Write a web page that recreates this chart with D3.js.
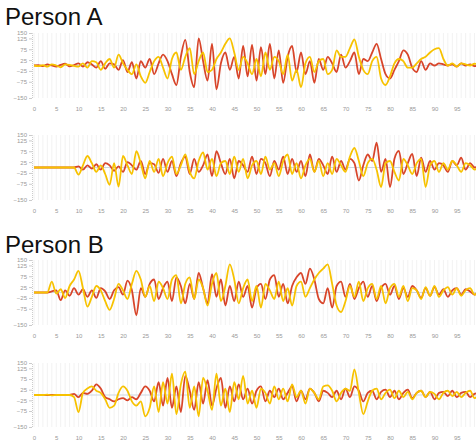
<!DOCTYPE html>
<html>
<head>
<meta charset="utf-8">
<script src="https://cdn.jsdelivr.net/npm/d3@7"></script>
<style>
  body { margin: 0; background: #fff; }
  svg { display: block; font-family: "Liberation Sans", Arial, sans-serif; }
</style>
</head>
<body>
<svg id="chart" width="476" height="448"></svg>
<script>
// tick labels
const xTicks = d3.range(0, 96, 5);
const yTicks = [150, 125, 75, 25, -25, -75, -150];

// Person A, upper chart
const aUpperRed = [
  0, 2, -3, 5, 0, -5, 3, 8, -4, 2,
  10, -5, 15, 5, -10, 20, -15, 10, 5, -20,
  25, -30, 15, -60, 20, -10, 30, -40, 10, 50,
  20, -40, -90, 40, 118, -30, -100, 125, 20, -70,
  100, -110, 10, 60, -20, 40, -60, 90, -50, 95,
  -70, 85, -40, 100, -60, 70, -80, 40, 90, -30,
  60, -40, 20, -80, 30, -20, 40, 10, -30, 50,
  -10, 20, 60, -40, 30, 20, 60, 100, 30, -40,
  -60, -20, 20, 70, 50, -10, -30, 20, -20, 10,
  0, 10, 5, 0, 5, -5, 10, 0, 5, -3, 2
];
const aUpperYellow = [
  0, -3, 2, -5, 5, 0, -8, 5, 3, -2,
  -5, 10, -10, 20, 15, -20, 10, 30, -10, 50,
  10, -20, -40, 5, -50, -80, -30, 20, 40, -10,
  -60, 30, 60, -20, 40, 80, -40, 20, 60, -30,
  -20, 30, 60, 100, 125, 60, -20, 40, 10, -40,
  30, -50, 60, -20, 40, 20, -40, 50, -70, -20,
  -100, 10, 40, -30, 20, 30, -40, -20, 70, 40,
  40, 80, 120, 40, -20, -40, 20, 40, -60, -90,
  -50, 10, 30, 20, -10, -10, 10, 30, 40, 60,
  75, 80, 30, 0, 10, -5, 10, 5, 0, 8, 3
];

// Person A, lower chart
const aLowerRed = [
  0, 0, 0, 0, 0, 0, 0, 0, 0, 0,
  5, -10, 10, -5, 15, -10, 20, 10, -15, 5,
  -20, 25, 10, -10, 30, -30, 20, 15, -25, 40,
  -20, 30, -40, 20, 50, -30, 40, -20, 10, 60,
  -40, 75, 20, -30, 40, -50, 30, 10, -20, 50,
  -30, 40, 20, -40, 30, -10, 50, -30, 40, -20,
  30, -40, 60, -20, 40, 10, -30, 50, -20, 30,
  -10, 40, 20, -60, 10, 60, 30, 115, -20, 40,
  -90, 40, 77, -30, 20, 63, -40, 45, -20, 30,
  -10, 20, 10, -20, 30, 10, 45, -10, 20, 0, 10
];
const aLowerYellow = [
  0, 0, 0, 0, 0, 0, 0, 0, 0, 0,
  -33, 10, 53, 20, -20, 10, -30, -80, 20, -88,
  53, 10, -30, 75, 20, -50, 30, -20, 40, -40,
  20, 50, -30, 10, 60, -20, -50, 30, 70, -10,
  40, -40, 20, 30, -30, 50, -20, 40, -50, 10,
  30, -30, 50, -10, 20, -40, 30, 60, -30, 20,
  -50, 10, 40, -20, 30, -40, 20, -30, 40, 10,
  -20, 50, 90, 30, -40, 20, 40, -10, -90, 20,
  30, -20, -60, 40, 10, -30, 20, 40, -90, 10,
  30, -20, 20, -10, 30, 10, -20, 20, 10, -10, 15
];

// Person B, upper chart
const bUpperRed = [
  0, 0, 0, 0, 5, 10, -35, 10, -15, 20,
  -10, 15, -20, 10, -25, 20, 5, -30, 10, 25,
  -10, 55, 10, -105, 20, -20, 40, 60, -30, 20,
  50, -40, 70, 30, -50, 40, -30, 90, 20, -50,
  85, -20, 60, -60, 30, -40, 50, -20, 30, -70,
  20, 40, -30, 60, 80, -20, 40, -50, 30, 70,
  90, 40, 110, 60, -30, -50, 20, -70, 30, 50,
  -20, 40, -30, 20, 50, -20, 30, -40, 20, 40,
  -10, 30, -30, 20, -20, 30, 10, -25, 20, -15,
  25, -10, 15, -20, 10, 20, -10, 15, 5, -10, 10
];
const bUpperYellow = [
  0, 0, 0, 0, 50, -5, 15, -25, 30, 60,
  100, 20, -65, -20, 30, 10, -40, -80, -30, 40,
  10, -30, 40, 100, 60, -20, 30, -40, 50, 20,
  -30, 60, 80, -50, 40, 70, -30, 60, 20, -60,
  40, 90, -40, 30, 130, 60, -50, 20, 60, -40,
  30, -70, 40, 10, -30, 50, -40, 20, -60, 30,
  50, -20, 20, 60, 90, 110, 130, 40, -60, -90,
  -40, 30, -20, 50, -40, 20, 40, -30, 30, -50,
  20, 40, -20, 30, -40, 20, 10, -30, 25, -15,
  30, -20, 10, 25, -10, 20, -15, 10, 20, -10, 15
];

// Person B, lower chart
const bLowerRed = [
  0, 0, 0, 0, 0, 0, 0, 0, 0, 5,
  -10, 10, 5, 20, 50, 30, -10, -20, -30, -20,
  -15, -25, -10, -20, 10, 40, 20, -30, 60, -50,
  80, -60, 40, -80, 90, 20, -70, 60, -40, 70,
  -50, 30, 80, -60, 40, -30, 50, -20, 30, -40,
  20, 40, -30, 20, -10, 30, -20, 10, 40, -30,
  20, -20, 30, 10, -30, 20, 10, -10, 20, -20,
  30, -10, 40, 20, -30, 10, 20, -20, 15, 25,
  -10, 20, -20, 10, 25, -15, 10, 20, -10, 15,
  -20, 10, 15, -5, 20, -10, 10, 15, -10, 5, 10
];
const bLowerYellow = [
  0, 0, 0, 2, -2, 0, 0, 0, 0, -10,
  -80, 10, 30, 40, 20, 10, -20, -60, -50, 10,
  40, 20, -30, -50, -30, -100, -60, 40, -80, 60,
  -40, 100, -90, 50, 110, -60, 40, -100, 80, 20,
  -70, 100, -50, 30, -80, 60, -20, 90, -40, 20,
  -60, 30, 10, -40, 40, -20, 30, -30, 50, -10,
  20, -40, 30, 10, -20, 40, 45, 20, -30, 10,
  30, 20, 120, 10, -90, -30, 20, 30, -20, 10,
  25, -15, 20, -10, 15, -20, 10, 20, -10, 15,
  5, -20, 10, 20, -5, 15, -10, 10, 20, -15, 5
];

const svg = d3.select("#chart");

const x = d3.scaleLinear()
  .domain([0, 100])
  .range([34, 479]);

const panels = [
  { red: aUpperRed, yellow: aUpperYellow, top: 33, bottom: 98 },
  { red: aLowerRed, yellow: aLowerYellow, top: 135, bottom: 200 },
  { red: bUpperRed, yellow: bUpperYellow, top: 260, bottom: 325 },
  { red: bLowerRed, yellow: bLowerYellow, top: 363, bottom: 427 }
];

// titles
svg.append("text")
  .attr("x", 5)
  .attr("y", 25)
  .style("font-size", "24px")
  .style("fill", "#111")
  .text("Person A");

svg.append("text")
  .attr("x", 5)
  .attr("y", 253)
  .style("font-size", "24px")
  .style("fill", "#111")
  .text("Person B");

panels.forEach(p => {
  const y = d3.scaleLinear()
    .domain([-150, 150])
    .range([p.bottom, p.top]);

  const g = svg.append("g");

  // vertical grid, one line per sample
  g.selectAll("line.grid")
    .data(d3.range(0, 101))
    .join("line")
    .attr("class", "grid")
    .attr("x1", d => x(d))
    .attr("x2", d => x(d))
    .attr("y1", y(150))
    .attr("y2", y(-150))
    .style("stroke", "#f2f2f2")
    .style("stroke-width", 1);

  // zero line
  g.append("line")
    .attr("x1", x(0))
    .attr("x2", 476)
    .attr("y1", y(0))
    .attr("y2", y(0))
    .style("stroke", "#cdd6e0")
    .style("stroke-width", 1);

  // y axis
  const yAxis = g.append("g")
    .attr("transform", `translate(${x(0) - 2},0)`)
    .call(d3.axisLeft(y).tickValues(yTicks).tickSize(3).tickPadding(2));
  yAxis.select(".domain").style("stroke", "#ccc").style("stroke-dasharray", "1,1");
  yAxis.selectAll(".tick line").style("stroke", "#ccc");
  yAxis.selectAll("text").style("font-size", "6px").style("fill", "#999");

  // x axis labels
  const xAxis = g.append("g")
    .attr("transform", `translate(0,${p.bottom + 7})`)
    .call(d3.axisBottom(x).tickValues(xTicks).tickSize(0).tickPadding(2));
  xAxis.select(".domain").remove();
  xAxis.selectAll("text").style("font-size", "6px").style("fill", "#999");

  const line = d3.line()
    .curve(d3.curveMonotoneX)
    .x((d, i) => x(i))
    .y(d => y(d));

  g.append("path")
    .datum(p.red)
    .attr("fill", "none")
    .attr("stroke", "#d8452a")
    .attr("stroke-width", 1.8)
    .attr("stroke-linejoin", "round")
    .attr("d", line);

  g.append("path")
    .datum(p.yellow)
    .attr("fill", "none")
    .attr("stroke", "#f7c200")
    .attr("stroke-width", 1.8)
    .attr("stroke-linejoin", "round")
    .attr("d", line);
});
</script>
</body>
</html>
